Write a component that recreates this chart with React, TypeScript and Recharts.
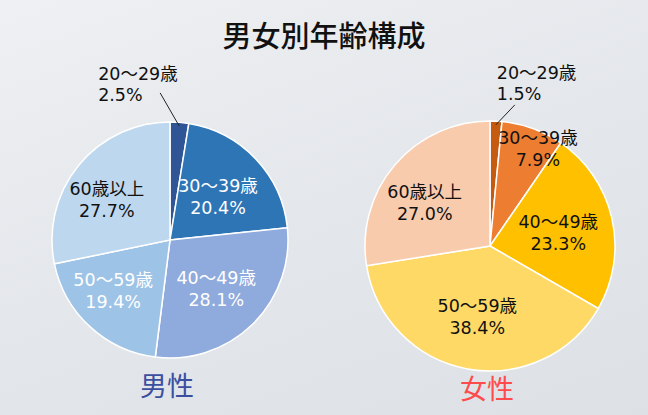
import { PieChart, Pie, Cell } from "recharts"

const AGE_GROUPS = ["20～29歳", "30～39歳", "40～49歳", "50～59歳", "60歳以上"]
const MALE_PCT = [2.5, 20.4, 28.1, 19.4, 27.7]
const FEMALE_PCT = [1.5, 7.9, 23.3, 38.4, 27.0]

const MALE_COLORS = ["#2f5597", "#2e75b6", "#8faadc", "#9dc3e6", "#bdd7ee"]
const FEMALE_COLORS = ["#c55a11", "#ed7d31", "#ffc000", "#ffd966", "#f8cbad"]
const MALE_TEXT = ["#111", "#fff", "#fff", "#fff", "#111"]
const FEMALE_TEXT = ["#111", "#111", "#111", "#111", "#111"]

const CJK = '"Noto Sans CJK JP", "Noto Sans", sans-serif'
const LABEL_FONT = '"DejaVu Sans", "Noto Sans CJK JP", sans-serif'

const maleData = AGE_GROUPS.map((name, i) => ({ name, value: MALE_PCT[i] }))
const femaleData = AGE_GROUPS.map((name, i) => ({ name, value: FEMALE_PCT[i] }))

const RAD = Math.PI / 180

// side: which way the callout for a tiny slice leans (-1 left, 1 right)
function makeLabel(textColors: string[], side: number) {
  return (p: any) => {
    const { cx, cy, midAngle, outerRadius, index, value } = p
    const name = AGE_GROUPS[index]
    const pct = Number(value).toFixed(1) + "%"
    const cos = Math.cos(-midAngle * RAD)
    const sin = Math.sin(-midAngle * RAD)

    if (value < 5) {
      const sx = cx + outerRadius * 0.97 * cos
      const sy = cy + outerRadius * 0.97 * sin
      const ex = sx + side * 19
      const ey = side < 0 ? sy - 33 : sy - 20
      const tx = side < 0 ? sx - 81 : sx + 1
      return (
        <g>
          <line x1={sx} y1={sy} x2={ex} y2={ey} stroke="#222" strokeWidth={1} />
          <text x={tx} y={sy - 46} fill="#111" fontSize={17.5} fontFamily={LABEL_FONT}>
            {name}
          </text>
          <text x={tx} y={sy - 25} fill="#111" fontSize={17.5} fontFamily={LABEL_FONT}>
            {pct}
          </text>
        </g>
      )
    }

    const r = outerRadius * (value < 10 ? 0.84 : 0.56)
    // narrow slices push the label right, left-leaning ones a bit further out
    const nudge = value < 10 ? 12 : cos < -0.5 ? -12 : 0
    const x = cx + r * cos + nudge
    const y = cy + r * sin
    return (
      <g>
        <text x={x} y={y - 3} fill={textColors[index]} fontSize={17.5} fontFamily={LABEL_FONT} textAnchor="middle">
          {name}
        </text>
        <text x={x} y={y + 19} fill={textColors[index]} fontSize={17.5} fontFamily={LABEL_FONT} textAnchor="middle">
          {pct}
        </text>
      </g>
    )
  }
}

export default function App() {
  return (
    <div
      style={{
        position: "absolute",
        left: 0,
        top: 0,
        width: 648,
        height: 415,
        overflow: "hidden",
        background: "linear-gradient(160deg, #eef0f3 0%, #e3e6ea 55%, #dde1e6 100%)",
        fontFamily: CJK,
      }}
    >
      <div
        style={{
          position: "absolute",
          top: 17,
          left: 0,
          width: 648,
          textAlign: "center",
          fontSize: 29,
          lineHeight: "34px",
          fontWeight: 500,
          color: "#111",
        }}
      >
        男女別年齢構成
      </div>

      <PieChart width={648} height={415} style={{ position: "absolute", left: 0, top: 0 }}>
        <Pie
          data={maleData}
          dataKey="value"
          nameKey="name"
          cx={165}
          cy={235}
          outerRadius={118}
          startAngle={90}
          endAngle={-270}
          stroke="#ffffff"
          strokeWidth={1.5}
          label={makeLabel(MALE_TEXT, -1)}
          labelLine={false}
          isAnimationActive={false}
        >
          {maleData.map((_, i) => (
            <Cell key={i} fill={MALE_COLORS[i]} />
          ))}
        </Pie>
        <Pie
          data={femaleData}
          dataKey="value"
          nameKey="name"
          cx={485}
          cy={241}
          outerRadius={125}
          startAngle={90}
          endAngle={-270}
          stroke="#ffffff"
          strokeWidth={1.5}
          label={makeLabel(FEMALE_TEXT, 1)}
          labelLine={false}
          isAnimationActive={false}
        >
          {femaleData.map((_, i) => (
            <Cell key={i} fill={FEMALE_COLORS[i]} />
          ))}
        </Pie>
      </PieChart>

      <div
        style={{
          position: "absolute",
          left: 140,
          top: 369,
          fontSize: 27,
          lineHeight: "32px",
          color: "#3b4fa0",
        }}
      >
        男性
      </div>
      <div
        style={{
          position: "absolute",
          left: 460,
          top: 372,
          fontSize: 27,
          lineHeight: "32px",
          color: "#ff4b4b",
        }}
      >
        女性
      </div>
    </div>
  )
}
